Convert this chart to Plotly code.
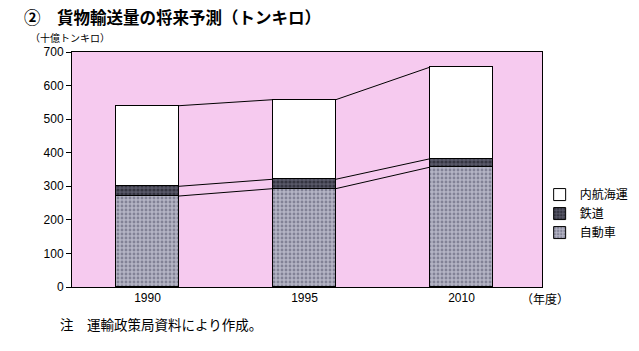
import plotly.graph_objects as go

years = ["1990", "1995", "2010"]
road = [271, 293, 357]      # 自動車
rail = [29, 28, 25]         # 鉄道
sea = [240, 237, 273]       # 内航海運

xi = list(range(len(years)))
bw = 0.40

fig = go.Figure()
fig.add_bar(x=xi, y=road, name="自動車", width=bw,
            marker=dict(color="#9c9cac", line=dict(color="black", width=1),
                        pattern=dict(shape=".", fgcolor="#505068", bgcolor="#b4b4c4", size=4, solidity=0.4)))
fig.add_bar(x=xi, y=rail, name="鉄道", width=bw,
            marker=dict(color="#303040", line=dict(color="black", width=1),
                        pattern=dict(shape=".", fgcolor="#101018", bgcolor="#585868", size=4, solidity=0.5)))
fig.add_bar(x=xi, y=sea, name="内航海運", width=bw,
            marker=dict(color="white", line=dict(color="black", width=1)))

# connector lines between stacked segment boundaries
levels = [
    road,
    [a + b for a, b in zip(road, rail)],
    [a + b + c for a, b, c in zip(road, rail, sea)],
]
for lv in levels:
    for i in range(len(years) - 1):
        fig.add_scatter(x=[xi[i] + bw / 2, xi[i + 1] - bw / 2], y=[lv[i], lv[i + 1]],
                        mode="lines", line=dict(color="black", width=1),
                        showlegend=False, hoverinfo="skip")

jp = "Noto Sans CJK JP"
num = "Liberation Sans, Arial, sans-serif"

fig.update_layout(
    width=639, height=351,
    margin=dict(l=72, r=97, t=52, b=64, autoexpand=False),
    paper_bgcolor="white", plot_bgcolor="#f6caef",
    barmode="stack", bargap=0,
    showlegend=True,
    legend=dict(x=0.995, y=0.455, xanchor="left", yanchor="top",
                traceorder="reversed", bgcolor="rgba(0,0,0,0)",
                font=dict(family=jp, size=12, color="black"),
                itemwidth=30, tracegroupgap=0),
    xaxis=dict(range=[-0.481, 2.513], tickmode="array", tickvals=xi, ticktext=years,
               showline=True, linecolor="black", linewidth=1, mirror=True,
               ticks="", showgrid=False, zeroline=False, fixedrange=True,
               tickfont=dict(family=num, size=12, color="black")),
    yaxis=dict(range=[0, 700], dtick=100, showline=True, linecolor="black", linewidth=1,
               mirror=True, ticks="outside", ticklen=5, tickcolor="black",
               showgrid=False, zeroline=False,
               tickfont=dict(family=num, size=12, color="black")),
    font=dict(family=jp, color="black"),
)

fig.add_annotation(text="<b>②　貨物輸送量の将来予測（トンキロ）</b>", xref="paper", yref="paper",
                   x=(22 - 72) / 470, y=(287 - 17) / 235, xanchor="left", yanchor="middle",
                   showarrow=False, font=dict(family=jp, size=16.5, color="black"))
fig.add_annotation(text="（十億トンキロ）", xref="paper", yref="paper",
                   x=(28 - 72) / 470, y=(287 - 38) / 235, xanchor="left", yanchor="middle",
                   showarrow=False, font=dict(family=jp, size=10, color="black"))
fig.add_annotation(text="（年度）", xref="paper", yref="paper",
                   x=(545 - 72) / 470, y=(287 - 298) / 235, xanchor="center", yanchor="middle",
                   showarrow=False, font=dict(family=jp, size=12, color="black"))
fig.add_annotation(text="注　運輸政策局資料により作成。", xref="paper", yref="paper",
                   x=(58 - 72) / 470, y=(287 - 324) / 235, xanchor="left", yanchor="middle",
                   showarrow=False, font=dict(family=jp, size=13.5, color="black"))

fig.write_html("out.html")
